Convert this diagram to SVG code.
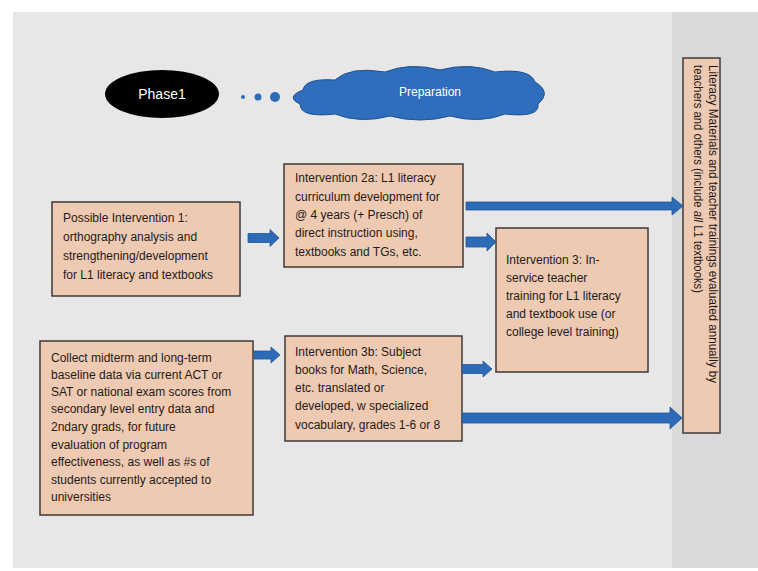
<svg xmlns="http://www.w3.org/2000/svg" width="758" height="571" viewBox="0 0 758 571">
<style>
.box{fill:#efcab3;stroke:#3f3a38;stroke-width:1.5}
.t{font-family:"Liberation Sans",Arial,sans-serif;font-size:12px;fill:#1e1a18}
.arr{fill:#2e6bb6;stroke:#22579a;stroke-width:0.8}
.w{font-family:"Liberation Sans",Arial,sans-serif;fill:#ffffff}
</style>
<rect x="0" y="0" width="758" height="571" fill="#ffffff"/>
<rect x="13" y="12" width="745" height="556" fill="#e7e7e7"/>
<rect x="672" y="12" width="86" height="556" fill="#d9d9d9"/>

<g id="phase1">
<ellipse cx="162" cy="94" rx="57" ry="24" fill="#000000"/>
<text class="w" x="162" y="99" font-size="14" text-anchor="middle">Phase1</text>
</g>
<g id="dots">
<circle cx="243" cy="97" r="2" fill="#2e6bb6"/>
<circle cx="258" cy="97" r="3.5" fill="#2e6bb6"/>
<circle cx="275" cy="97" r="5" fill="#2e6bb6"/>
</g>
<g id="preparation">
<path d="M 300 104 Q 285 97 303 90 Q 305 78 335 80 Q 350 66 385 72 Q 410 62 440 70 Q 470 62 495 72 Q 530 68 535 82 Q 552 92 538 104 Q 540 118 505 114 Q 480 124 450 116 Q 420 124 390 116 Q 360 124 335 114 Q 300 118 300 104 Z" fill="#2f6ebd" stroke="#1f4f8f" stroke-width="1"/>
<text class="w" x="430" y="96" font-size="12" text-anchor="middle">Preparation</text>
</g>

<g id="intervention1">
<rect class="box" x="52" y="202" width="188" height="94"/>
<text class="t" x="63" y="222">Possible Intervention 1:</text>
<text class="t" x="63" y="241">orthography analysis and</text>
<text class="t" x="63" y="260">strengthening/development</text>
<text class="t" x="63" y="279">for L1 literacy and textbooks</text>
</g>

<g id="intervention2a">
<rect class="box" x="284" y="164" width="179" height="103"/>
<text class="t" x="295" y="182">Intervention 2a: L1 literacy</text>
<text class="t" x="295" y="201">curriculum development for</text>
<text class="t" x="295" y="219">@ 4 years (+ Presch) of</text>
<text class="t" x="295" y="237">direct instruction using,</text>
<text class="t" x="295" y="256">textbooks and TGs, etc.</text>
</g>

<g id="intervention3">
<rect class="box" x="496" y="228" width="152" height="144"/>
<text class="t" x="506" y="264">Intervention 3: In-</text>
<text class="t" x="506" y="282">service teacher</text>
<text class="t" x="506" y="300">training for L1 literacy</text>
<text class="t" x="506" y="318">and textbook use (or</text>
<text class="t" x="506" y="336">college level training)</text>
</g>

<g id="baseline">
<rect class="box" x="40" y="341" width="213" height="174"/>
<text class="t" x="51" y="362">Collect midterm and long-term</text>
<text class="t" x="51" y="379">baseline data via current ACT or</text>
<text class="t" x="51" y="396">SAT or national exam scores from</text>
<text class="t" x="51" y="413">secondary level entry data and</text>
<text class="t" x="51" y="431">2ndary grads, for future</text>
<text class="t" x="51" y="449">evaluation of program</text>
<text class="t" x="51" y="466">effectiveness, as well as #s of</text>
<text class="t" x="51" y="484">students currently accepted to</text>
<text class="t" x="51" y="501">universities</text>
</g>

<g id="intervention3b">
<rect class="box" x="285" y="336" width="177" height="105"/>
<text class="t" x="295" y="356">Intervention 3b: Subject</text>
<text class="t" x="295" y="374">books for Math, Science,</text>
<text class="t" x="295" y="392">etc. translated or</text>
<text class="t" x="295" y="410">developed, w specialized</text>
<text class="t" x="295" y="429">vocabulary, grades 1-6 or 8</text>
</g>

<g id="evaluation">
<rect class="box" x="683" y="58" width="37" height="375"/>
<text class="t" font-size="11" transform="translate(709,65) rotate(90)" textLength="318" lengthAdjust="spacingAndGlyphs">Literacy Materials and teacher trainings evaluated annually by</text>
<text class="t" font-size="11" transform="translate(694,65) rotate(90)" textLength="228" lengthAdjust="spacingAndGlyphs">teachers and others (include <tspan font-style="italic">all</tspan> L1 textbooks)</text>
</g>

<g id="connectors">
<polygon class="arr" points="248,233.5 270,233.5 270,229.5 279,238 270,246.5 270,242.5 248,242.5"/>
<polygon class="arr" points="466,202 672,202 672,197 683,206 672,215 672,210 466,210"/>
<polygon class="arr" points="466,237 487,237 487,233 496,242 487,251 487,247 466,247"/>
<polygon class="arr" points="254,351 271,351 271,347 280,355 271,363 271,359 254,359"/>
<polygon class="arr" points="462,364.5 483,364.5 483,361 492,369 483,377 483,373.5 462,373.5"/>
<polygon class="arr" points="462,413 670,413 670,407 682,418 670,429 670,423 462,423"/>
</g>
</svg>
